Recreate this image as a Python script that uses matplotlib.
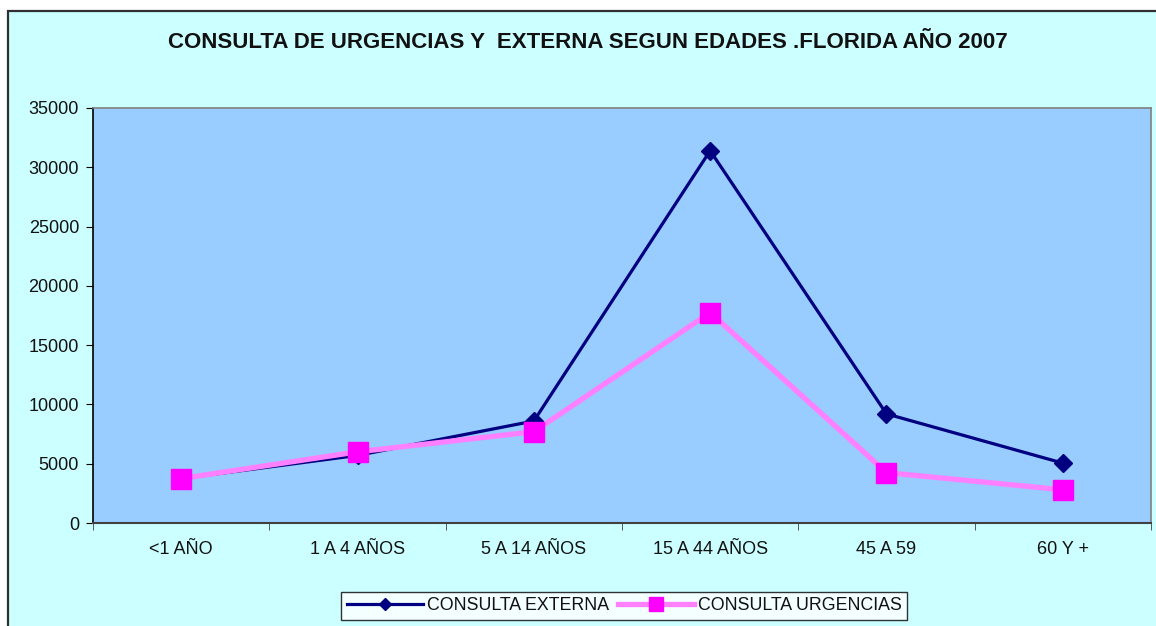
import matplotlib.pyplot as plt
from matplotlib.patches import Rectangle

categories = ["<1 AÑO", "1 A 4 AÑOS", "5 A 14 AÑOS", "15 A 44 AÑOS", "45 A 59", "60 Y +"]
externa = [3750, 5700, 8600, 31400, 9200, 5050]
urgencias = [3750, 6000, 7700, 17750, 4250, 2800]
yticks = [0, 5000, 10000, 15000, 20000, 25000, 30000, 35000]

plt.rcParams['font.family'] = ['Liberation Sans', 'DejaVu Sans']
txt = '#111111'

W, H = 1156, 626
fig = plt.figure(figsize=(W / 100, H / 100), dpi=100, facecolor='white')

# chart area background with its border
fig.patches.append(Rectangle((8 / W, -0.05), 1.2, 1 - 11 / H + 0.05,
                             transform=fig.transFigure, facecolor='#CCFFFF',
                             edgecolor='#303030', linewidth=1.6, zorder=-1))

ax = fig.add_axes([93 / W, (H - 523) / H, 1058 / W, 415 / H])
ax.set_facecolor('#99CCFF')

x = list(range(len(categories)))
ax.plot(x, externa, color='#000080', linewidth=2.3, marker='D', markersize=9,
        label='CONSULTA EXTERNA', zorder=3)
ax.plot(x, urgencias, color='#FF80FF', linewidth=3.8, marker='s', markersize=15,
        markerfacecolor='#FF00FF', markeredgecolor='#FF00FF',
        label='CONSULTA URGENCIAS', zorder=4)

ax.set_xlim(-0.5, len(categories) - 0.5)
ax.set_ylim(0, 35000)
ax.set_yticks(yticks)
ax.set_yticklabels([str(v) for v in yticks], fontsize=13, color=txt)
ax.set_xticks(x)
ax.set_xticklabels(categories, fontsize=13, color=txt)
ax.tick_params(axis='x', length=0, pad=13)
ax.set_xticks([i - 0.5 for i in range(len(categories) + 1)], minor=True)
ax.tick_params(axis='x', which='minor', length=5, color='#404040')
ax.tick_params(axis='y', length=5, color='black', pad=5)

for side in ['top', 'right']:
    ax.spines[side].set_color('#808080')
    ax.spines[side].set_linewidth(1.2)
ax.spines['left'].set_color('black')
ax.spines['left'].set_linewidth(1.2)
ax.spines['bottom'].set_color('#404040')
ax.spines['bottom'].set_linewidth(1.5)

fig.text(588 / W, 1 - 42 / H, "CONSULTA DE URGENCIAS Y  EXTERNA SEGUN EDADES .FLORIDA AÑO 2007",
         ha='center', va='center', fontsize=16, fontweight='bold', color=txt)

leg = fig.legend(loc='center', bbox_to_anchor=(624 / W, 1 - 606 / H), ncol=2,
                 fontsize=12.8, frameon=True, fancybox=False, handlelength=4.3,
                 columnspacing=0.5, handletextpad=0.2, borderpad=0.3,
                 markerscale=0.7)
for t in leg.get_texts():
    t.set_color(txt)
leg.get_frame().set_edgecolor('black')
leg.get_frame().set_facecolor('white')
leg.get_frame().set_linewidth(1.0)

fig.savefig('out.png', dpi=100, facecolor=fig.get_facecolor())
